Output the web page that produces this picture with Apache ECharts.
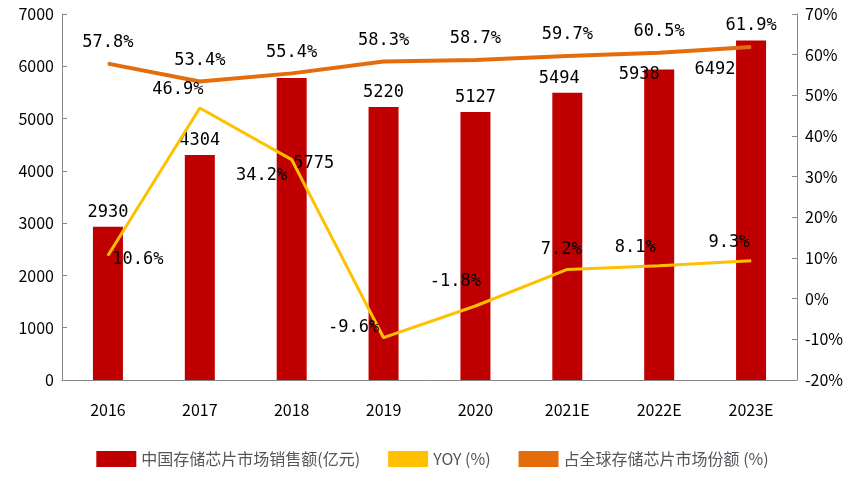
<!DOCTYPE html>
<html>
<head>
<meta charset="utf-8" />
<style>
  body {margin: 0;}
  #chart {width: 865px; height: 486px;}
</style>
<script src="https://cdn.jsdelivr.net/npm/echarts@6/dist/echarts.min.js"></script>
</head>
<body>
<div id="chart"></div>
<script type="text/javascript">
  var years = ['2016', '2017', '2018', '2019', '2020', '2021E', '2022E', '2023E'];
  var sales = [2930, 4304, 5775, 5220, 5127, 5494, 5938, 6492];
  var yoy = [10.6, 46.9, 34.2, -9.6, -1.8, 7.2, 8.1, 9.3];
  var share = [57.8, 53.4, 55.4, 58.3, 58.7, 59.7, 60.5, 61.9];

  // label offsets picked by eye from the reference
  var salesOffsets = [[0, 0], [0, 0], [22, 100], [0, 0], [0, 0], [-8, 0], [-20, 20], [-36, 44]];
  var yoyOffsets = [[30, 18], [-22, -4], [-30, 30], [-30, 4], [-20, -10], [-6, -6], [-24, -4], [-22, -4]];

  var font = 'Noto Sans CJK SC';
  var labelFont = 'DejaVu Sans Mono';
  var chart = echarts.init(document.getElementById('chart'));

  var option = {
    textStyle: {fontFamily: font, color: '#000'},
    grid: {left: 62, right: 68, top: 14, bottom: 106},
    legend: {
      bottom: 14, left: 'center', itemGap: 28,
      textStyle: {fontSize: 16, fontFamily: font},
      data: [
        {name: '中国存储芯片市场销售额(亿元)', icon: 'rect'},
        {name: 'YOY (%)', icon: 'rect'},
        {name: '占全球存储芯片市场份额 (%)', icon: 'rect'}
      ],
      itemWidth: 40, itemHeight: 16
    },
    xAxis: {
      type: 'category', data: years,
      axisLine: {lineStyle: {color: '#888'}},
      axisTick: {show: false},
      axisLabel: {fontSize: 16, color: '#000', margin: 22}
    },
    yAxis: [{
      type: 'value', min: 0, max: 7000, interval: 1000,
      axisLine: {show: true, lineStyle: {color: '#888'}},
      axisTick: {show: true, inside: true},
      splitLine: {show: false},
      axisLabel: {fontSize: 16, color: '#000', formatter: function (v) { return String(v); }}
    }, {
      type: 'value', min: -20, max: 70, interval: 10,
      axisLine: {show: true, lineStyle: {color: '#888'}},
      axisTick: {show: true, inside: true},
      splitLine: {show: false},
      axisLabel: {fontSize: 16, color: '#000', formatter: '{value}%'}
    }],
    series: [{
      name: '中国存储芯片市场销售额(亿元)', type: 'bar', barWidth: 30,
      itemStyle: {color: '#C00000'},
      data: sales.map(function (v, i) {
        return {value: v, label: {offset: salesOffsets[i]}};
      }),
      label: {show: true, position: 'top', fontSize: 17, fontFamily: labelFont, color: '#000', distance: 6}
    }, {
      name: 'YOY (%)', type: 'line', yAxisIndex: 1, symbol: 'circle', symbolSize: 1,
      lineStyle: {color: '#FFC000', width: 3}, itemStyle: {color: '#FFC000'},
      data: yoy.map(function (v, i) {
        return {value: v, label: {offset: yoyOffsets[i]}};
      }),
      label: {show: true, position: 'top', fontSize: 17, fontFamily: labelFont, color: '#000', formatter: '{c}%'}
    }, {
      name: '占全球存储芯片市场份额 (%)', type: 'line', yAxisIndex: 1, symbol: 'circle', symbolSize: 1,
      lineStyle: {color: '#E46C0A', width: 4}, itemStyle: {color: '#E46C0A'},
      data: share,
      label: {show: true, position: 'top', distance: 12, fontSize: 17, fontFamily: labelFont, color: '#000', formatter: '{c}%'}
    }]
  };
  chart.setOption(option);
</script>
</body>
</html>
